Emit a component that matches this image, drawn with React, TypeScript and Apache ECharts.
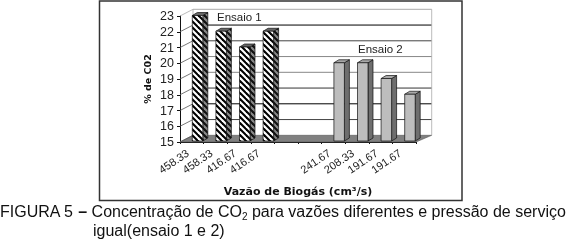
import React, { useEffect, useRef } from "react";
import * as echarts from "echarts";

const categories = ["458.33", "458.33", "416.67", "416.67", "", "", "241.67", "208.33", "191.67", "191.67"];
const ensaio1: [number, number][] = [[0, 23], [1, 22], [2, 21], [3, 22]];
const ensaio2: [number, number][] = [[6, 20], [7, 20], [8, 19], [9, 18]];
const yLevels = [15, 16, 17, 18, 19, 20, 21, 22, 23];
const lineShades = ["#555", "#444", "#000", "#333", "#888", "#888", "#444", "#000", "#aaa"];

const DXL = 13, DXR = 15.7, DY = -6.7;
const SIDE = 5, TOPH = 3, BARW = 10.5;
const FONT = "'Liberation Sans', Arial, sans-serif";

function stripes(bg: string, fg: string) {
  const p = 6;
  const c = document.createElement("canvas");
  c.width = p; c.height = p;
  const g = c.getContext("2d")!;
  g.fillStyle = bg; g.fillRect(0, 0, p, p);
  g.strokeStyle = fg; g.lineWidth = 2.1;
  for (const o of [-p, 0, p]) {
    g.beginPath(); g.moveTo(o - 1, -1); g.lineTo(o + p + 1, p + 1); g.stroke();
  }
  return { image: c, repeat: "repeat" as const };
}

function bar3d(front: any, side: any, top: any) {
  return (params: any, api: any) => {
    const idx = api.value(0), val = api.value(1);
    const t = api.coord([idx, val]);
    const b = api.coord([idx, 15]);
    const x0 = t[0] + 0.5, x1 = x0 + BARW, yT = t[1] - 0.5, yB = b[1] - 1;
    const poly = (pts: number[][], fill: any) => ({
      type: "polygon", shape: { points: pts },
      style: { fill, stroke: "#111", lineWidth: 0.7 },
    });
    return {
      type: "group",
      children: [
        poly([[x1, yT], [x1 + SIDE, yT - TOPH], [x1 + SIDE, yB - TOPH], [x1, yB]], side),
        poly([[x0, yT], [x0 + SIDE, yT - TOPH], [x1 + SIDE, yT - TOPH], [x1, yT]], top),
        poly([[x0, yT], [x1, yT], [x1, yB], [x0, yB]], front),
      ],
    };
  };
}

function walls(params: any, api: any) {
  const n = categories.length;
  const halfL = api.size([1, 0])[0] / 2;
  const xL = api.coord([0, 15])[0] - halfL;
  const xR = api.coord([n - 1, 15])[0] + halfL;
  const yAt = (v: number) => api.coord([0, v])[1];
  const kids: any[] = [];
  kids.push({
    type: "polygon",
    shape: { points: [[xL, yAt(15)], [xL + DXL, yAt(15) + DY], [xR + DXR, yAt(15) + DY], [xR, yAt(15)]] },
    style: { fill: "#808080", stroke: "#555", lineWidth: 0.6 },
  });
  yLevels.forEach((v, i) => {
    const y = yAt(v);
    kids.push({
      type: "line",
      shape: { x1: xL, y1: y, x2: xL + DXL, y2: y + DY },
      style: { stroke: v === 23 ? "#aaa" : "#555", lineWidth: 0.8 },
    });
    if (v > 15)
      kids.push({
        type: "line",
        shape: { x1: xL + DXL, y1: y + DY, x2: xR + DXR, y2: y + DY },
        style: { stroke: lineShades[i], lineWidth: 1 },
      });
  });
  kids.push({
    type: "line",
    shape: { x1: xL + DXL, y1: yAt(23) + DY, x2: xL + DXL, y2: yAt(15) + DY },
    style: { stroke: "#aaa", lineWidth: 0.8 },
  });
  kids.push({
    type: "line",
    shape: { x1: xR + DXR, y1: yAt(23) + DY, x2: xR + DXR, y2: yAt(15) + DY },
    style: { stroke: "#aaa", lineWidth: 0.8 },
  });
  return { type: "group", children: kids };
}

export default function App() {
  const ref = useRef<HTMLDivElement>(null);
  useEffect(() => {
    document.body.style.margin = "0";
    const chart = echarts.init(ref.current!, undefined, { renderer: "svg", width: 566, height: 250 });
    const frontHatch = stripes("#000", "#fff");
    const sideHatch = stripes("#111", "#888");
    const base = { type: "custom" as const, coordinateSystem: "cartesian2d", encode: { x: 0, y: 1 }, silent: true };
    chart.setOption({
      animation: false,
      backgroundColor: "#fff",
      grid: { left: 180, top: 16, width: 236, height: 126 },
      xAxis: {
        type: "category",
        data: categories,
        name: "Vazão de Biogás (cm³/s)",
        nameLocation: "middle",
        nameGap: 44,
        nameTextStyle: { fontFamily: "'DejaVu Sans'", fontWeight: "bold", fontSize: 11, color: "#111" },
        axisLine: { lineStyle: { color: "#111", width: 1 } },
        axisTick: { show: true, length: 2, interval: 0, lineStyle: { color: "#111" } },
        axisLabel: { interval: 0, rotate: 34, margin: 7, padding: [0, 5, 0, 0], fontFamily: FONT, fontSize: 11, color: "#222" },
      },
      yAxis: {
        type: "value",
        min: 15,
        max: 23,
        interval: 1,
        name: "% de C02",
        nameLocation: "middle",
        nameGap: 28,
        nameRotate: 90,
        nameTextStyle: { fontFamily: "'DejaVu Sans'", fontWeight: "bold", fontSize: 9.5, color: "#111" },
        splitLine: { show: false },
        axisLine: { show: true, lineStyle: { color: "#111", width: 1 } },
        axisTick: { show: true, length: 3, lineStyle: { color: "#111" } },
        axisLabel: { margin: 6, fontFamily: FONT, fontSize: 12.5, color: "#222" },
      },
      series: [
        { ...base, z: 1, data: [[0, 15]], renderItem: walls },
        { ...base, z: 2, name: "Ensaio 1", data: ensaio1, renderItem: bar3d(frontHatch, sideHatch, "#666") },
        { ...base, z: 2, name: "Ensaio 2", data: ensaio2, renderItem: bar3d("#bdbdbd", "#6e6e6e", "#a8a8a8") },
      ],
      graphic: [
        {
          type: "rect", z: 0, silent: true,
          shape: { x: 99.5, y: 1, width: 362.5, height: 199.5 },
          style: { fill: "none", stroke: "#333", lineWidth: 1.5 },
        },
        { type: "text", x: 217, y: 11, style: { text: "Ensaio 1", font: `11.5px ${FONT}`, fill: "#222" }, z: 10 },
        { type: "text", x: 358, y: 43, style: { text: "Ensaio 2", font: `11.5px ${FONT}`, fill: "#222" }, z: 10 },
        {
          type: "text", x: 0, y: 201, z: 10,
          style: {
            text: "{a|FIGURA 5 }{d|–}{a| Concentração de CO}{s|2}{a| para vazões diferentes e pressão de serviço}",
            rich: {
              a: { font: `16px ${FONT}`, fill: "#111", lineHeight: 20 },
              d: { font: `bold 16px ${FONT}`, fill: "#111", lineHeight: 20 },
              s: { font: `10px ${FONT}`, fill: "#111", lineHeight: 10, verticalAlign: "bottom" },
            },
          },
        },
        { type: "text", x: 93, y: 222, z: 10, style: { text: "igual(ensaio 1 e 2)", font: `16px ${FONT}`, fill: "#111" } },
      ],
    });
    return () => chart.dispose();
  }, []);
  return <div ref={ref} style={{ width: 566, height: 250, position: "absolute", left: 0, top: 0, filter: "blur(0.35px)" }} />;
}
